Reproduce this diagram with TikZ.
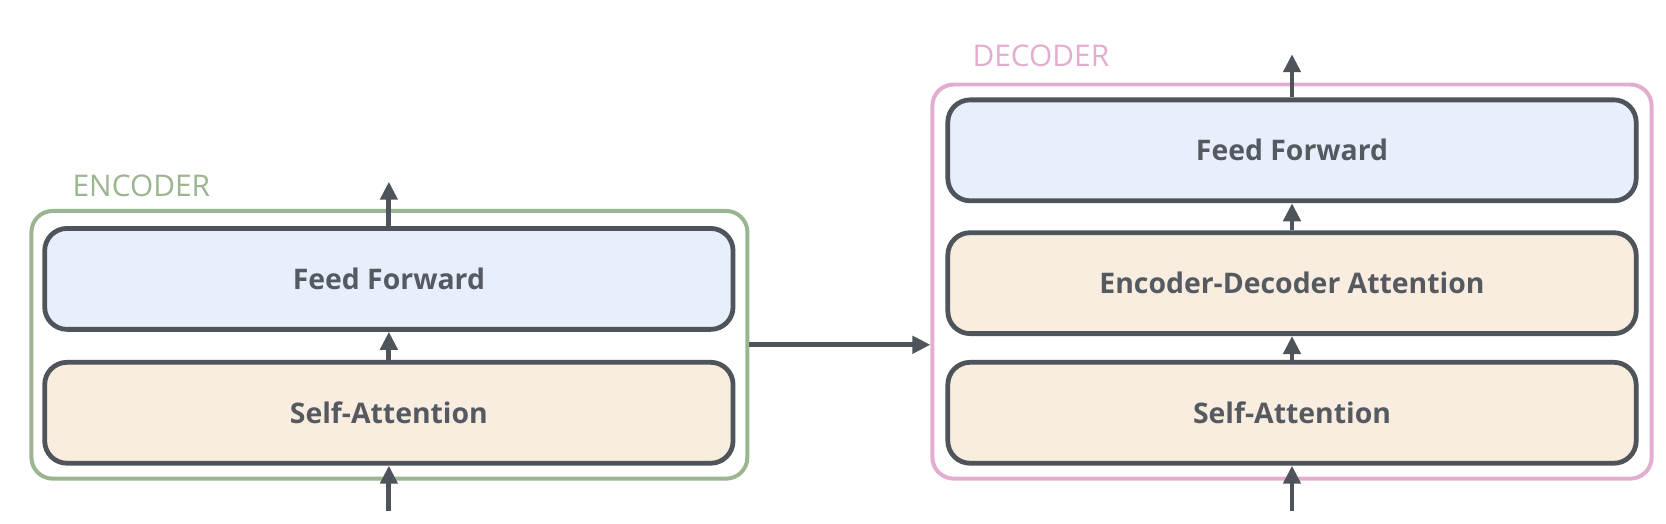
\documentclass[tikz,border=0pt]{standalone}
\usepackage{fontspec}
\setmainfont{Open Sans}
\usepackage{xcolor}
\usepackage{tikz}
\usetikzlibrary{calc, positioning, arrows.meta}

\definecolor{strokegray}{HTML}{4F535A}
\definecolor{textgray}{HTML}{555A61}
\definecolor{ffblue}{HTML}{E8EFFC}
\definecolor{attnbeige}{HTML}{F9EDE0}
\definecolor{encgreen}{HTML}{9BB590}
\definecolor{decpink}{HTML}{E2ADCE}

\begin{document}
\begin{tikzpicture}[x=0.02cm,y=-0.02cm,
                    layer box/.style={rectangle,rounded corners=0.42cm,draw=strokegray,line width=0.09cm,minimum width=12.96cm,minimum height=1.9cm,font=\fontsize{15.2}{18}\selectfont\bfseries,text=textgray},
                    ff box/.style={layer box,fill=ffblue},
                    attn box/.style={layer box,fill=attnbeige},
                    stack box/.style={rectangle,rounded corners=0.4cm,line width=0.075cm},
                    stack label/.style={anchor=west,inner sep=0pt,font=\fontsize{16}{19}\selectfont},
                    flow/.style={-{Triangle[length=0.34cm,width=0.32cm]},draw=strokegray,line width=0.09cm}]
 \useasboundingbox (0,0) rectangle (1568,493);

 \node [stack box,draw=encgreen,minimum width=13.48cm,minimum height=5.04cm] (Encoder) at (366.5,324.5) {};
 \node [stack box,draw=decpink,minimum width=13.54cm,minimum height=7.42cm] (Decoder) at (1216,265) {};

 \node [stack label,text=encgreen] (EncoderLabel) at (68,175) {ENCODER};
 \node [stack label,text=decpink] (DecoderLabel) at (915,53) {DECODER};

 \node [ff box] (EncFF) at (366,262.5) {Feed Forward};
 \node [attn box] (EncSA) at (366,388.5) {Self-Attention};

 \node [ff box] (DecFF) at (1216,141.5) {Feed Forward};
 \node [attn box] (DecEDA) at (1216,266.5) {Encoder-Decoder Attention};
 \node [attn box] (DecSA) at (1216,388.5) {Self-Attention};

 \coordinate (EncIn) at (366,481);
 \coordinate (EncOut) at (366,171);
 \coordinate (DecIn) at (1216,481);
 \coordinate (DecOut) at (1216,51);

 \draw [flow] (EncIn) -- (EncSA.south);
 \draw [flow] (EncSA.north) -- (EncFF.south);
 \draw [flow] (EncFF.north) -- (EncOut);

 \draw [flow] (DecIn) -- (DecSA.south);
 \draw [flow] (DecSA.north) -- (DecEDA.south);
 \draw [flow] (DecEDA.north) -- (DecFF.south);
 \draw [flow] (DecFF.north) -- (DecOut);

 \draw [flow] (Encoder.east) -- (Encoder.east -| Decoder.west);
\end{tikzpicture}
\end{document}
